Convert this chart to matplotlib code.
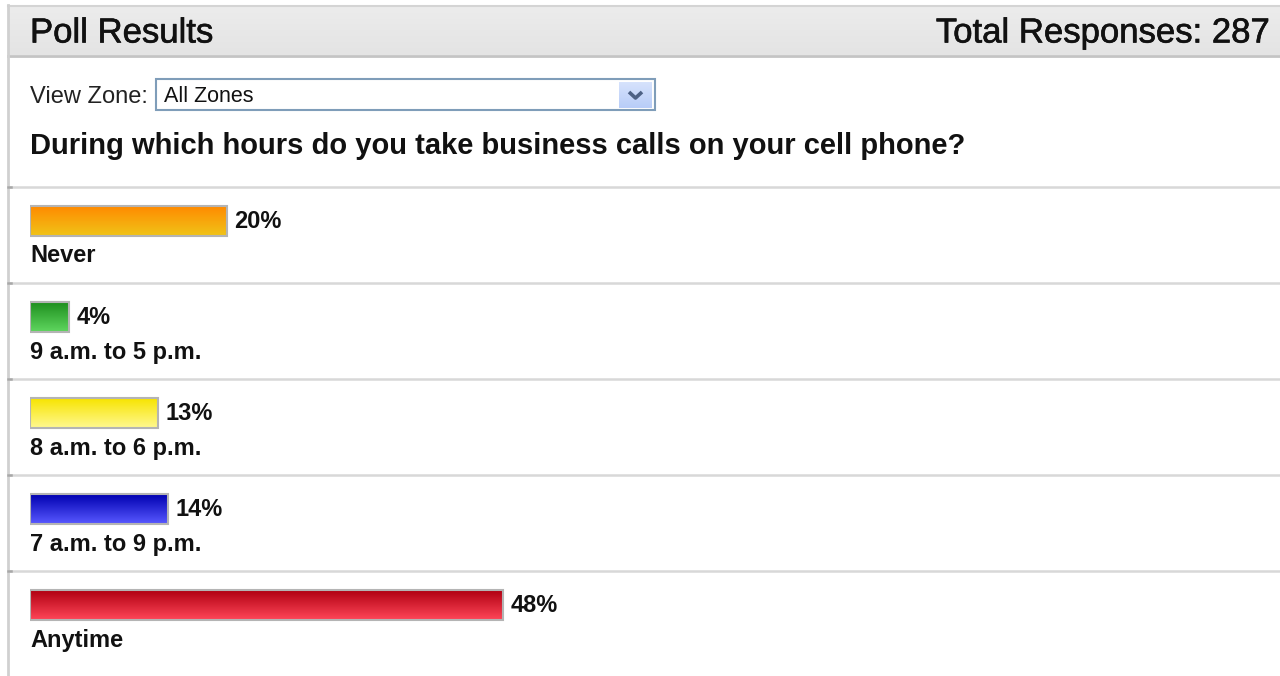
import matplotlib
matplotlib.use("Agg")
import matplotlib.pyplot as plt
import matplotlib.patheffects as pe
import numpy as np
from matplotlib.patches import Rectangle
from matplotlib.colors import LinearSegmentedColormap

# poll data
answers = ["Never", "9 a.m. to 5 p.m.", "8 a.m. to 6 p.m.", "7 a.m. to 9 p.m.", "Anytime"]
shares = [20, 4, 13, 14, 48]
total_responses = 287
question = "During which hours do you take business calls on your cell phone?"

# bar gradients (top colour, bottom colour)
grad_top = ["#ff8a00", "#1f8f1f", "#f7e400", "#0000b0", "#b00012"]
grad_bot = ["#f0c418", "#5fd65f", "#fff890", "#5858ff", "#ff4658"]

W, H = 1280, 676
DPI = 100
fig = plt.figure(figsize=(W / DPI, H / DPI), dpi=DPI)
fig.patch.set_facecolor("white")

# page layer in pixel coordinates
ax = fig.add_axes([0, 0, 1, 1])
ax.set_xlim(0, W)
ax.set_ylim(H, 0)
ax.axis("off")

SANS = ["Liberation Sans", "DejaVu Sans"]
heavy = [pe.withStroke(linewidth=0.45, foreground="#111111")]

# header strip
hdr = np.linspace(0, 1, 50).reshape(-1, 1)
ax.imshow(hdr, extent=(8, W, 55, 6), cmap=LinearSegmentedColormap.from_list(
    "hdr", ["#ececec", "#e4e4e4"]), aspect="auto", zorder=1)
ax.plot([8, W], [5.5, 5.5], color="#d4d4d4", lw=1.5, zorder=2)
ax.plot([8, W], [55.5, 55.5], color="#c4c4c4", lw=2, zorder=2)
ax.plot([8, 8], [5, H], color="#d0d0d0", lw=2, zorder=2)

ax.text(30, 33, "Poll Results", ha="left", va="center", fontsize=25,
        color="#111111", family=SANS, zorder=3, path_effects=heavy)
ax.text(1270, 33, f"Total Responses: {total_responses}", ha="right", va="center",
        fontsize=25, color="#111111", family=SANS, zorder=3, path_effects=heavy)

# zone selector
ax.text(30, 97, "View Zone:", ha="left", va="center", fontsize=17,
        color="#222222", family=SANS)
ax.add_patch(Rectangle((156, 79), 499, 31, facecolor="white", edgecolor="#7f9db9", lw=1.5))
ax.text(164, 97, "All Zones", ha="left", va="center", fontsize=15.5,
        color="#111111", family=SANS)
btn = np.linspace(0, 1, 20).reshape(-1, 1)
ax.imshow(btn, extent=(619, 652, 108, 82), cmap=LinearSegmentedColormap.from_list(
    "btn", ["#d6e2fc", "#b8cdf8"]), aspect="auto", zorder=3)
ax.plot([629, 635.5, 642], [92, 98, 92], color="#4d6185", lw=2.6, zorder=4,
        solid_capstyle="butt")

ax.text(30, 146, question, ha="left", va="center", fontsize=21,
        fontweight="bold", color="#111111", family=SANS)

# row separators
ROW0, ROW_H = 187, 96
for i in range(len(answers)):
    y = ROW0 + i * ROW_H
    ax.plot([8, W], [y, y], color="#d8d8d8", lw=1.8, zorder=2)
    ax.plot([8, 11], [y, y], color="#a8a8a8", lw=1.8, zorder=2)

# bar layer: x in percent, y in rows
PX_PER_PCT = 9.86
left_px, right_px = 30, W
bx = fig.add_axes([left_px / W, 1 - (ROW0 + ROW_H * len(answers)) / H,
                   (right_px - left_px) / W, ROW_H * len(answers) / H])
bx.axis("off")
bx.patch.set_alpha(0)

rows = np.arange(len(answers))
bar_c = 34 / ROW_H
bar_h = 30 / ROW_H
bars = bx.barh(rows + bar_c, shares, height=bar_h, color="none",
               edgecolor="#b4b4b4", linewidth=1.5, zorder=3)
g = np.linspace(0, 1, 64).reshape(-1, 1)
for i, (b, v) in enumerate(zip(bars, shares)):
    cm = LinearSegmentedColormap.from_list(f"g{i}", [grad_top[i], grad_bot[i]])
    y0 = b.get_y()
    im = bx.imshow(g, extent=(0, v, y0 + b.get_height(), y0), cmap=cm,
                   aspect="auto", zorder=2)
    im.set_clip_path(b)
    bx.text(v + 7 / PX_PER_PCT, i + bar_c, f"{v}%", ha="left", va="center",
            fontsize=17, fontweight="bold", color="#111111", family=SANS)
    bx.text(0, i + 69 / ROW_H, answers[i], ha="left", va="center",
            fontsize=17, fontweight="bold", color="#111111", family=SANS)
bx.set_xlim(0, (right_px - left_px) / PX_PER_PCT)
bx.set_ylim(len(answers), 0)

fig.savefig("out.png", dpi=DPI, facecolor="white")
